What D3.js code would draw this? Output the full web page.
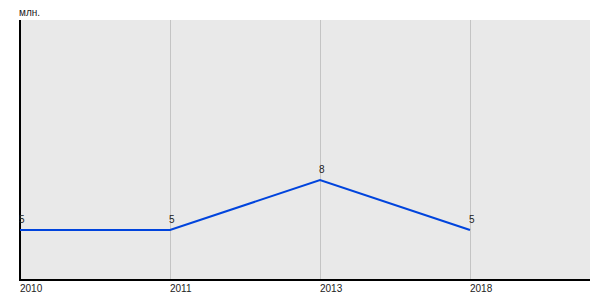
<!DOCTYPE html>
<html>
<head>
<meta charset="utf-8">
<script src="https://cdn.jsdelivr.net/npm/d3@7"></script>
<style>
  body { margin: 0; background: #fff; }
  text { font-family: Arial, "Liberation Sans", sans-serif; }
</style>
</head>
<body>
<div id="viz"></div>
<script>
const years = ["2010", "2011", "2013", "2018"];
const values = [5, 5, 8, 5];
const unitLabel = "млн.";

const config = {
  width: 600,
  height: 300,
  left: 20,
  right: 590,
  top: 20,
  bottom: 280,
  step: 150,
  bg: "#e9e9e9",
  grid: "#c4c4c4",
  line: "#0044dd",
  fontSize: 10,
};

const svg = d3
  .select("#viz")
  .append("svg")
  .attr("width", config.width)
  .attr("height", config.height);

const x = d3
  .scalePoint()
  .domain(years)
  .range([config.left, config.left + config.step * (years.length - 1)]);

const y = d3.scaleLinear().domain([2, 17.6]).range([config.bottom, config.top]);

// plot background
svg
  .append("rect")
  .attr("x", config.left)
  .attr("y", config.top)
  .attr("width", config.right - config.left)
  .attr("height", config.bottom - config.top)
  .attr("fill", config.bg);

// vertical grid lines
svg
  .selectAll(".grid")
  .data(years.slice(1))
  .enter()
  .append("line")
  .attr("x1", (d) => x(d) + 0.5)
  .attr("x2", (d) => x(d) + 0.5)
  .attr("y1", config.top)
  .attr("y2", config.bottom)
  .attr("stroke", config.grid)
  .attr("stroke-width", 1);

// axes
svg
  .append("line")
  .attr("x1", config.left)
  .attr("x2", config.left)
  .attr("y1", config.top)
  .attr("y2", config.bottom + 1)
  .attr("stroke", "#000")
  .attr("stroke-width", 2);

svg
  .append("line")
  .attr("x1", config.left - 1)
  .attr("x2", config.right)
  .attr("y1", config.bottom)
  .attr("y2", config.bottom)
  .attr("stroke", "#000")
  .attr("stroke-width", 2);

// tick labels
svg
  .selectAll(".tick-label")
  .data(years)
  .enter()
  .append("text")
  .attr("x", (d) => x(d))
  .attr("y", 292)
  .attr("font-size", config.fontSize)
  .attr("fill", "#222")
  .text((d) => d);

// unit label
svg
  .append("text")
  .attr("x", 19)
  .attr("y", 16)
  .attr("font-size", config.fontSize)
  .attr("fill", "#222")
  .text(unitLabel);

// series line
const points = years.map((d, i) => ({ year: d, value: values[i] }));

svg
  .append("path")
  .datum(points)
  .attr("fill", "none")
  .attr("stroke", config.line)
  .attr("stroke-width", 2)
  .attr(
    "d",
    d3
      .line()
      .x((d) => x(d.year))
      .y((d) => y(d.value))
  );

// value labels
svg
  .selectAll(".value-label")
  .data(points)
  .enter()
  .append("text")
  .attr("x", (d) => x(d.year) - 1)
  .attr("y", (d) => y(d.value) - 7)
  .attr("font-size", config.fontSize)
  .attr("fill", "#222")
  .text((d) => d.value);
</script>
</body>
</html>
